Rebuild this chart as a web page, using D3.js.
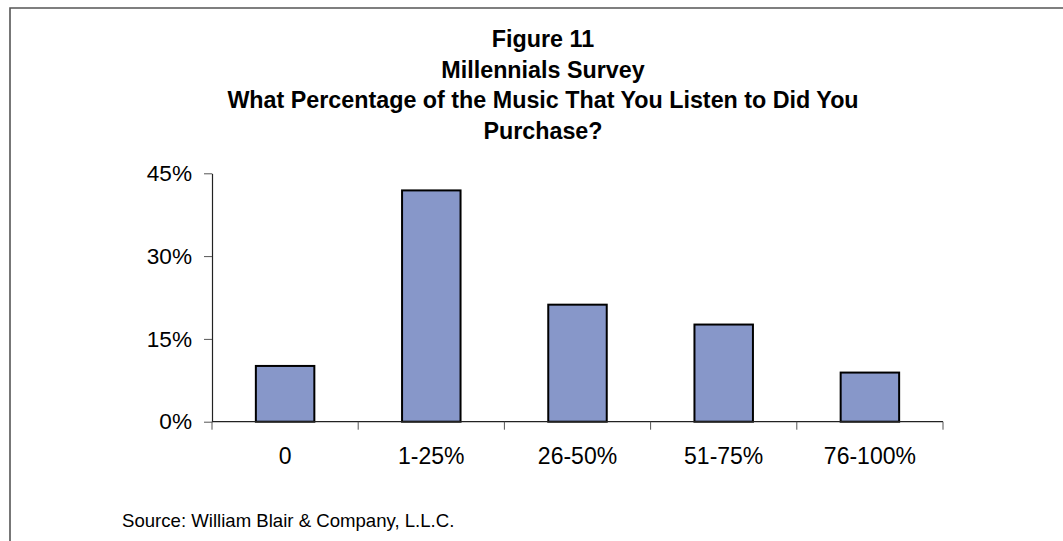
<!DOCTYPE html>
<html>
<head>
<meta charset="utf-8">
<script src="https://cdn.jsdelivr.net/npm/d3@7"></script>
<style>
  html, body { margin: 0; padding: 0; background: #fff; }
  svg { display: block; font-family: Arial, "Liberation Sans", sans-serif; }
</style>
</head>
<body>
<svg id="chart" width="1063" height="541"></svg>
<script>
// Survey responses: share of respondents by purchased-music bracket
const categories = ["0", "1-25%", "26-50%", "51-75%", "76-100%"];
const shares = [10.1, 41.9, 21.2, 17.6, 8.9];
const yTicks = [0, 15, 30, 45];
const titleLines = [
  "Figure 11",
  "Millennials Survey",
  "What Percentage of the Music That You Listen to Did You",
  "Purchase?"
];
const sourceNote = "Source: William Blair & Company, L.L.C.";

const svg = d3.select("#chart");

// Outer frame (top and left edges)
svg.append("path")
  .attr("d", "M10,541 L10,8 L1063,8")
  .attr("fill", "none")
  .attr("stroke", "#555")
  .attr("stroke-width", 1.6);

// Title block
svg.append("g")
  .selectAll("text")
  .data(titleLines)
  .join("text")
  .attr("x", 543)
  .attr("y", (d, i) => 47 + i * 30.6)
  .attr("text-anchor", "middle")
  .attr("font-weight", "bold")
  .attr("font-size", 23.3)
  .attr("fill", "#000")
  .text(d => d);

const plot = { left: 212, right: 943, top: 173.3, bottom: 421.7 };

const x = d3.scaleBand()
  .domain(categories)
  .range([plot.left, plot.right])
  .padding(0);

const y = d3.scaleLinear()
  .domain([0, 45])
  .range([plot.bottom, plot.top]);

const barW = x.bandwidth() * 0.4;

// Bars
svg.append("g")
  .selectAll("rect")
  .data(categories.map((c, i) => ({ c, v: shares[i] })))
  .join("rect")
  .attr("x", d => x(d.c) + (x.bandwidth() - barW) / 2)
  .attr("y", d => y(d.v))
  .attr("width", barW)
  .attr("height", d => y(0) - y(d.v))
  .attr("fill", "#8797c9")
  .attr("stroke", "#000")
  .attr("stroke-width", 2);

// Y axis
const yAxis = svg.append("g")
  .attr("transform", `translate(${plot.left},0)`)
  .call(d3.axisLeft(y).tickValues(yTicks).tickFormat(d => d + "%").tickSize(8).tickSizeOuter(0).tickPadding(12));
yAxis.select(".domain").attr("stroke", "#222").attr("stroke-width", 1.2);
yAxis.selectAll(".tick line").attr("stroke", "#555");
yAxis.selectAll(".tick text")
  .attr("font-size", 22.6)
  .attr("font-family", "Arial, 'Liberation Sans', sans-serif")
  .attr("fill", "#000");

// X axis: ticks on band boundaries, labels centred in bands
const xAxisG = svg.append("g")
  .attr("transform", `translate(0,${plot.bottom})`);
xAxisG.append("line")
  .attr("x1", plot.left).attr("x2", plot.right)
  .attr("y1", 0).attr("y2", 0)
  .attr("stroke", "#222").attr("stroke-width", 1.2);
const bounds = categories.map(c => x(c)).concat([plot.right]);
xAxisG.selectAll("line.tick")
  .data(bounds)
  .join("line")
  .attr("class", "tick")
  .attr("x1", d => d).attr("x2", d => d)
  .attr("y1", 0).attr("y2", 8)
  .attr("stroke", "#555");
xAxisG.selectAll("text")
  .data(categories)
  .join("text")
  .attr("x", d => x(d) + x.bandwidth() / 2)
  .attr("y", 42.5)
  .attr("text-anchor", "middle")
  .attr("font-size", 23)
  .attr("fill", "#000")
  .text(d => d);

// Source note
svg.append("text")
  .attr("x", 122)
  .attr("y", 526.5)
  .attr("font-size", 18.6)
  .attr("fill", "#000")
  .text(sourceNote);
</script>
</body>
</html>
